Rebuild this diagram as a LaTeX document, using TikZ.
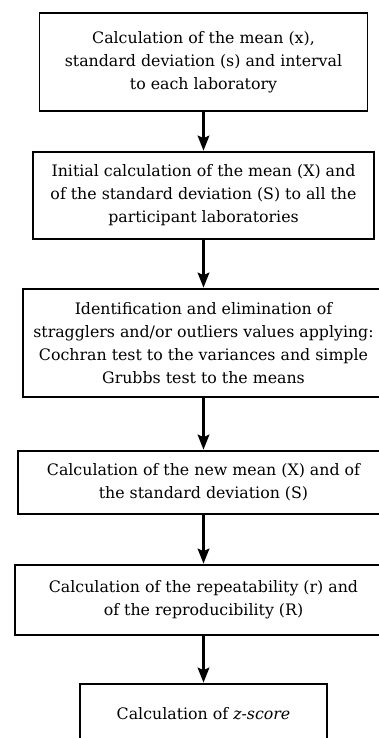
\documentclass[tikz,border=0pt]{standalone}
\usepackage{fontspec}
\setmainfont{DejaVu Serif}
\usetikzlibrary{arrows.meta,positioning}

\begin{document}
\begin{tikzpicture}[>={Stealth[length=7.5pt,width=5.8pt,inset=1.2pt]}, x=1pt, y=1pt,
 stage/.style={draw, line width=0.7pt, align=center, inner sep=2pt,
 font=\fontsize{7.9}{11.5}\selectfont},
 flow/.style={->, line width=1.3pt, shorten >=0.3pt}]
\useasboundingbox (0,0) rectangle (189.5,-369);
\clip (0,0) rectangle (189.5,-369);
\node[stage, minimum width=164pt, minimum height=49pt] (labs) at (101.75,-31)
 {Calculation of the mean (x),\\
 standard deviation (s) and interval\\
 to each laboratory};
\node[stage, minimum width=170.5pt, minimum height=43.5pt] (initial) at (101.75,-97.75)
 {Initial calculation of the mean (X) and\\
 of the standard deviation (S) to all the\\
 participant laboratories};
\node[stage, minimum width=180.5pt, minimum height=54pt] (outliers) at (101.75,-171.5)
 {Identification and elimination of\\
 stragglers and/or outliers values applying:\\
 Cochran test to the variances and simple\\
 Grubbs test to the means};
\node[stage, minimum width=185.5pt, minimum height=31.5pt] (newmean) at (101.75,-241.25)
 {Calculation of the new mean (X) and of\\
 the standard deviation (S)};
\node[stage, minimum width=188.5pt, minimum height=35pt] (repro) at (101.75,-300)
 {Calculation of the repeatability (r) and\\
 of the reproducibility (R)};
\node[stage, minimum width=123.5pt, minimum height=30pt] (zscore) at (101.75,-357)
 {Calculation of \textit{z-score}};
\draw[flow] (labs.south) -- (initial.north);
\draw[flow] (initial.south) -- (outliers.north);
\draw[flow] (outliers.south) -- (newmean.north);
\draw[flow] (newmean.south) -- (repro.north);
\draw[flow] (repro.south) -- (zscore.north);
\end{tikzpicture}
\end{document}
